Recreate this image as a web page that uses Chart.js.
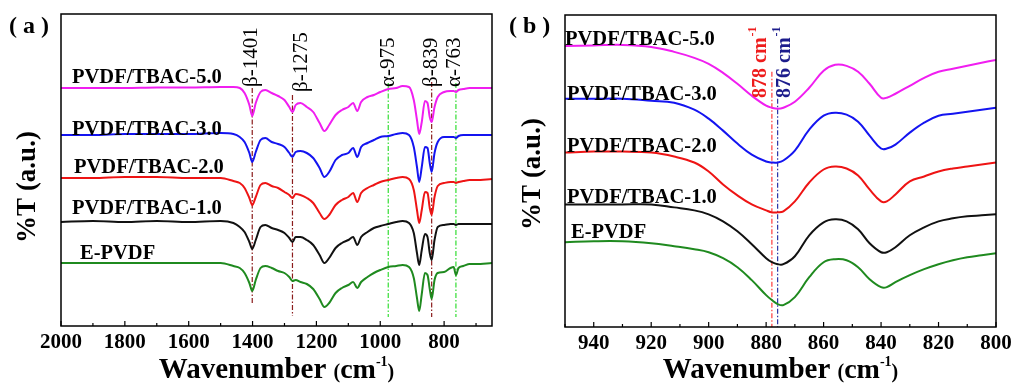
<!DOCTYPE html>
<html>
<head>
<meta charset="utf-8">
<script src="https://cdn.jsdelivr.net/npm/chart.js@4.4.0/dist/chart.umd.min.js"></script>
<style>
  html, body { margin: 0; padding: 0; background: #fff; overflow: hidden; }
  #wrap { position: relative; width: 1013px; height: 386px; }
  canvas { position: absolute; top: 0; }
  #chartA { left: 0; }
  #chartB { left: 500px; }
</style>
</head>
<body>
<div id="wrap">
  <canvas id="chartA" width="500" height="386"></canvas>
  <canvas id="chartB" width="513" height="386"></canvas>
</div>
<script>
// samples, top curve first
const samples = ['PVDF/TBAC-5.0', 'PVDF/TBAC-3.0', 'PVDF/TBAC-2.0', 'PVDF/TBAC-1.0', 'E-PVDF'];
const colors = ['#f01ef0', '#1414f0', '#ee1414', '#111111', '#1f8a1f'];

// (a) full range, offset spectra (a.u.)
const wnA = [2000, 1900, 1800, 1700, 1600, 1500, 1460, 1440, 1425, 1410, 1401, 1390, 1375, 1360, 1340, 1320,
  1300, 1285, 1275, 1265, 1250, 1230, 1210, 1190, 1175, 1160, 1140, 1120, 1100, 1085, 1072, 1060, 1040, 1020,
  1000, 975, 950, 930, 910, 895, 885, 878, 870, 860, 852, 845, 839, 830, 820, 800, 780, 770, 763, 755, 740,
  720, 700, 650];
const tbac50A = [238, 238, 238, 238.5, 238.5, 239, 239, 238, 233, 221, 210, 223, 234, 236, 233, 230,
  226, 219, 214, 221, 223, 219, 214, 203, 195, 201, 211, 216, 219, 223, 215, 224, 229, 231,
  234, 237, 238, 240, 239, 226, 206, 192, 204, 225, 223, 209, 204, 219, 229, 234, 235, 235, 234, 236, 237,
  238, 238, 238];
const tbac30A = [191, 191, 192, 192, 192, 193, 192, 189, 184, 173, 164, 174, 186, 188, 184, 182,
  179, 173, 169, 174, 175, 173, 168, 158, 149, 154, 166, 171, 173, 178, 169, 179, 183, 186,
  189, 190, 192, 193, 191, 179, 159, 144, 159, 179, 178, 163, 154, 173, 184, 189, 189, 189, 188, 190, 191,
  191, 191, 191];
const tbac20A = [148, 148, 149, 149, 148, 148, 145, 143, 138, 128, 121, 129, 141, 143, 140, 138,
  134, 131, 128, 132, 131, 128, 123, 113, 107, 111, 121, 126, 129, 133, 124, 133, 138, 141,
  144, 146, 148, 149, 147, 136, 116, 103, 116, 134, 133, 118, 111, 129, 140, 143, 144, 144, 143, 144, 145,
  146, 146, 147];
const tbac10A = [104, 105, 104, 105, 104, 105, 103, 99, 94, 84, 77, 86, 99, 101, 98, 96,
  93, 88, 84, 89, 89, 86, 81, 71, 63, 68, 78, 83, 86, 89, 81, 89, 94, 98,
  100, 102, 104, 105, 103, 93, 73, 61, 76, 92, 89, 73, 66, 86, 99, 101, 102, 102, 101, 102, 102,
  102, 102, 102];
const epvdfA = [63, 63, 63, 63, 63, 63, 60, 58, 53, 43, 35, 46, 58, 60, 58, 55,
  53, 49, 45, 46, 44, 42, 37, 27, 19, 23, 33, 38, 41, 44, 38, 44, 49, 53,
  56, 59, 60, 61, 59, 48, 28, 15, 32, 53, 51, 37, 27, 46, 53, 54, 58, 59, 51, 58, 60,
  62, 62, 63];
const ticksA = [2000, 1900, 1800, 1700, 1600, 1500, 1400, 1300, 1200, 1100, 1000, 900, 800, 700];
const labelsA = [2000, 1800, 1600, 1400, 1200, 1000, 800];

// band markers in (a)
const bandWn = [1401, 1275, 975, 839, 763];
const bandNames = ['β-1401', 'β-1275', 'α-975', 'β-839', 'α-763'];
const bandPhase = ['beta', 'beta', 'alpha', 'beta', 'alpha'];
const bandTop = [238, 231, 243, 244, 243];
const bandBottom = [23, 10, 9, 9, 9];

// (b) zoom 950-800
const wnB = [950, 940, 930, 920, 912, 905, 900, 895, 890, 885, 880, 878, 876, 874, 870, 865, 860, 856, 852,
  848, 844, 840, 838, 835, 830, 825, 820, 815, 810, 805, 800];
const tbac50B = [282, 282.5, 283, 281, 276, 270, 264, 255, 244, 232, 222, 220, 219, 220, 226, 240, 257, 263, 262,
  256, 244, 230, 230, 234, 242, 250, 256, 259, 262, 265, 268];
const tbac30B = [229, 229, 229, 227, 225, 218, 209, 197, 184, 173, 166, 165, 165, 167, 177, 198, 212, 215, 213,
  206, 192, 179, 179, 183, 195, 205, 212, 214, 216, 218, 220];
const tbac20B = [175, 176, 176, 175, 171, 165, 156, 143, 132, 123, 117, 115, 115, 116, 126, 145, 158, 161, 159,
  152, 138, 126, 126, 133, 146, 151, 156, 159, 161, 163, 165];
const tbac10B = [123, 123, 123, 123, 120, 117, 113, 106, 96, 83, 69, 65, 63, 63, 71, 92, 105, 108, 106,
  98, 84, 75, 75, 80, 92, 100, 106, 109, 111, 112, 113];
const epvdfB = [85, 86, 86, 84, 81, 78, 75, 69, 60, 47, 32, 27, 23, 22, 30, 50, 65, 68, 67,
  60, 48, 40, 40, 45, 52, 58, 63, 67, 70, 72, 74];
const ticksB = [800, 810, 820, 830, 840, 850, 860, 870, 880, 890, 900, 910, 920, 930, 940, 950];
const labelsB = [800, 820, 840, 860, 880, 900, 920, 940];

// peak shift markers in (b)
const shiftWn = [878, 876];
const shiftNames = ['878 cm', '876 cm'];
const shiftColors = ['#ee1c1c', '#1c1c8c'];
const shiftLineColors = ['#ff3a3a', '#2a35a8'];
const shiftTop = [256, 229];

const SERIF = '"Liberation Serif", "Times New Roman", serif';
Chart.defaults.font.family = SERIF;
Chart.defaults.color = '#000';

function spectra(wn, series, smooth) {
  return series.map((ys, i) => ({
    label: samples[i],
    data: wn.map((x, j) => ({ x: x, y: ys[j] })),
    borderColor: colors[i],
    borderWidth: 2,
    pointRadius: 0,
    tension: 0.4,
    cubicInterpolationMode: smooth,
    fill: false
  }));
}

function marker(x, top, bottom, color) {
  return {
    data: [{ x: x, y: top }, { x: x, y: bottom }],
    borderColor: color,
    borderWidth: 1.2,
    borderDash: [5, 2, 1.5, 2],
    pointRadius: 0,
    tension: 0,
    fill: false
  };
}

function drawXTitle(ctx, cx, baseY) {
  const parts = [
    { t: 'Wavenumber ', f: 'bold 29px ' + SERIF, dy: 0 },
    { t: '(', f: 'bold 20px ' + SERIF, dy: 0 },
    { t: 'cm', f: 'bold 28px ' + SERIF, dy: 0 },
    { t: '-1', f: 'bold 14px ' + SERIF, dy: -12 },
    { t: ')', f: 'bold 20px ' + SERIF, dy: 0 }
  ];
  let w = 0;
  parts.forEach(p => { ctx.font = p.f; p.w = ctx.measureText(p.t).width; w += p.w; });
  let x = cx - w / 2;
  ctx.textAlign = 'left';
  ctx.textBaseline = 'alphabetic';
  parts.forEach(p => { ctx.font = p.f; ctx.fillText(p.t, x, baseY + p.dy); x += p.w; });
}

// frame, inward ticks, titles and names
function decor(cfg) {
  return {
    id: 'decor',
    afterDraw(chart) {
      const ctx = chart.ctx;
      const area = chart.chartArea;
      const xs = chart.scales.x;
      ctx.save();
      ctx.strokeStyle = '#000';
      ctx.lineWidth = 1.5;
      ctx.strokeRect(area.left, area.top, area.right - area.left, area.bottom - area.top);
      ctx.lineWidth = 1.2;
      xs.ticks.forEach(t => {
        const px = xs.getPixelForValue(t.value);
        const len = cfg.labelled.includes(t.value) ? 5 : 3;
        ctx.beginPath();
        ctx.moveTo(px, area.bottom);
        ctx.lineTo(px, area.bottom - len);
        ctx.stroke();
      });

      ctx.fillStyle = '#000';
      ctx.textAlign = 'left';
      ctx.textBaseline = 'alphabetic';
      ctx.font = 'bold 24px ' + SERIF;
      ctx.fillText(cfg.letter, cfg.letterPos[0], cfg.letterPos[1]);

      ctx.font = 'bold 20.5px ' + SERIF;
      samples.forEach((s, i) => ctx.fillText(s, cfg.namePos[i][0], cfg.namePos[i][1]));

      ctx.save();
      ctx.translate(cfg.yTitle[0], cfg.yTitle[1]);
      ctx.rotate(-Math.PI / 2);
      ctx.font = 'bold 27px ' + SERIF;
      ctx.textAlign = 'center';
      ctx.textBaseline = 'middle';
      ctx.fillText('%T (a.u.)', 0, 0);
      ctx.restore();

      drawXTitle(ctx, (area.left + area.right) / 2, 378);
      cfg.extra(chart, ctx);
      ctx.restore();
    }
  };
}

function options(xMin, xMax, tickList, labelList, yMax, yWidth, xHeight, padTop, padRight) {
  return {
    responsive: false,
    animation: false,
    devicePixelRatio: 1,
    layout: { padding: { top: padTop, right: padRight, left: 0, bottom: 0 } },
    plugins: { legend: { display: false }, tooltip: { enabled: false } },
    scales: {
      x: {
        type: 'linear',
        reverse: true,
        min: xMin,
        max: xMax,
        grid: { display: false },
        border: { display: false },
        afterBuildTicks: s => { s.ticks = tickList.map(v => ({ value: v })); },
        afterFit: s => { s.height = xHeight; },
        ticks: {
          autoSkip: false,
          maxRotation: 0,
          minRotation: 0,
          padding: -4,
          color: '#000',
          font: { family: SERIF, size: 21, weight: 'bold' },
          callback: v => labelList.includes(v) ? String(v) : ''
        }
      },
      y: {
        type: 'linear',
        min: 0,
        max: yMax,
        grid: { display: false },
        border: { display: false },
        ticks: { display: false },
        afterFit: s => { s.width = yWidth; }
      }
    }
  };
}

// panel (a)
const bandSets = bandWn.map((wn, i) =>
  marker(wn, bandTop[i], bandBottom[i], bandPhase[i] === 'beta' ? '#8b1c1c' : '#33dd33'));
new Chart(document.getElementById('chartA'), {
  type: 'line',
  data: { datasets: spectra(wnA, [tbac50A, tbac30A, tbac20A, tbac10A, epvdfA], 'monotone').concat(bandSets) },
  options: options(650, 2000, ticksA, labelsA, 312, 61, 60, 14, 8),
  plugins: [decor({
    letter: '( a )',
    letterPos: [9, 33],
    labelled: labelsA,
    namePos: [[72, 83], [72, 135], [74, 173], [72, 214], [80, 259]],
    yTitle: [28, 187],
    extra(chart, ctx) {
      const xs = chart.scales.x;
      const dx = [5, 15, 6, 5, 4];
      const bottom = [87, 92, 87, 87, 87];
      ctx.font = '21px ' + SERIF;
      ctx.fillStyle = '#000';
      bandWn.forEach((wn, i) => {
        ctx.save();
        ctx.translate(xs.getPixelForValue(wn) + dx[i], bottom[i]);
        ctx.rotate(-Math.PI / 2);
        ctx.fillText(bandNames[i], 0, 0);
        ctx.restore();
      });
    }
  })]
});

// panel (b)
const shiftSets = shiftWn.map((wn, i) => marker(wn, shiftTop[i], 0, shiftLineColors[i]));
new Chart(document.getElementById('chartB'), {
  type: 'line',
  data: { datasets: spectra(wnB, [tbac50B, tbac30B, tbac20B, tbac10B, epvdfB], 'default').concat(shiftSets) },
  options: options(800, 950, ticksB, labelsB, 313, 65, 59, 15, 17),
  plugins: [decor({
    letter: '( b )',
    letterPos: [9, 33],
    labelled: labelsB,
    namePos: [[65, 45], [67, 100], [67, 152], [67, 203], [71, 238]],
    yTitle: [33, 174],
    extra(chart, ctx) {
      const xs = chart.scales.x;
      const dx = [-6, 12];
      shiftWn.forEach((wn, i) => {
        ctx.save();
        ctx.translate(xs.getPixelForValue(wn) + dx[i], 98);
        ctx.rotate(-Math.PI / 2);
        ctx.fillStyle = shiftColors[i];
        ctx.font = 'bold 20px ' + SERIF;
        ctx.fillText(shiftNames[i], 0, 0);
        const w = ctx.measureText(shiftNames[i]).width;
        ctx.font = 'bold 12px ' + SERIF;
        ctx.fillText('-1', w + 1, -10);
        ctx.restore();
      });
    }
  })]
});
</script>
</body>
</html>
